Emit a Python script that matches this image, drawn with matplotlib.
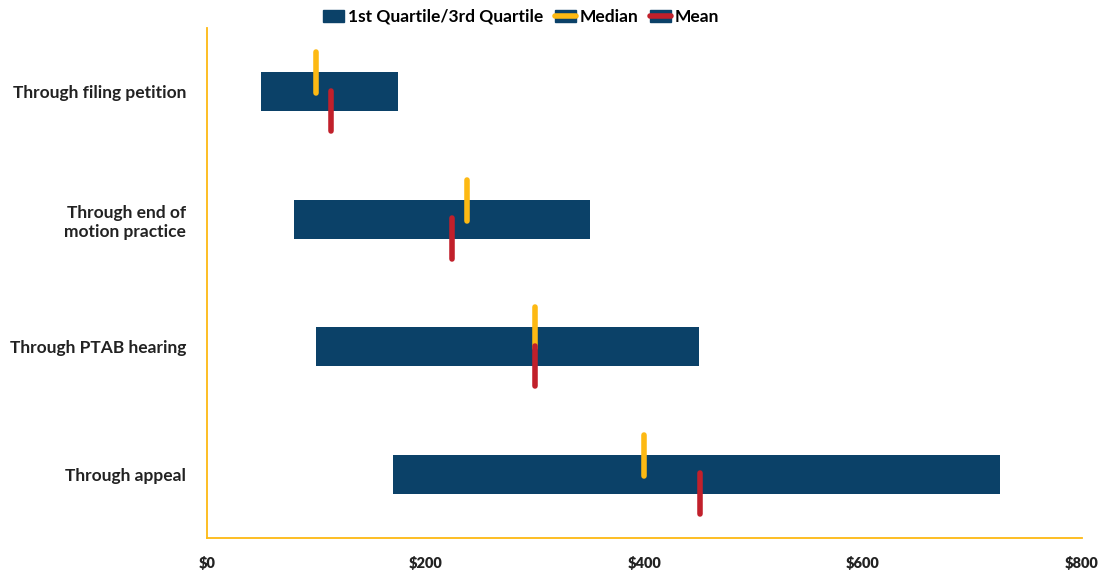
import matplotlib.pyplot as plt
from matplotlib.patches import Patch
from matplotlib.lines import Line2D

categories = ['Through filing petition', 'Through end of\nmotion practice',
              'Through PTAB hearing', 'Through appeal']
q1 = [50, 80, 100, 170]
q3 = [175, 350, 450, 725]
median = [100, 238, 300, 400]
mean = [114, 224, 300, 451]
xticks = [0, 200, 400, 600, 800]

blue = '#0B4168'
yellow = '#FDB913'
red = '#C1202B'

plt.rcParams['font.family'] = ['Lato', 'DejaVu Sans']
plt.rcParams['font.weight'] = 'bold'

fig = plt.figure(figsize=(11.06, 5.75), dpi=100)
ax = fig.add_axes([0.187, 0.064, 0.791, 0.887])

ypos = list(range(len(categories)))
widths = [b - a for a, b in zip(q1, q3)]
ax.barh(ypos, widths, left=q1, height=0.305, color=blue, zorder=2)

for y, md, mn in zip(ypos, median, mean):
    ax.plot([md, md], [y - 0.31, y + 0.01], color=yellow, lw=4, solid_capstyle='round', zorder=3)
    ax.plot([mn, mn], [y - 0.01, y + 0.31], color=red, lw=4, solid_capstyle='round', zorder=4)

ax.set_xlim(0, 800)
ax.set_ylim(3.5, -0.5)
ax.set_yticks(ypos)
ax.set_yticklabels(categories, fontsize=12.5, fontweight='bold', color='#222222')
ax.set_xticks(xticks)
ax.set_xticklabels([f'${v:,}' for v in xticks], fontsize=10.5, fontweight='heavy', color='#222222')
ax.tick_params(axis='x', length=0, pad=13)
ax.tick_params(axis='y', length=0, pad=15)

for s in ['top', 'right']:
    ax.spines[s].set_visible(False)
for s in ['left', 'bottom']:
    ax.spines[s].set_color(yellow)
    ax.spines[s].set_linewidth(1.3)

h_q = Patch(color=blue)
h_med = (Patch(color=blue), Line2D([], [], color=yellow, lw=4, solid_capstyle='round'))
h_mean = (Patch(color=blue), Line2D([], [], color=red, lw=4, solid_capstyle='round'))
fig.legend([h_q, h_med, h_mean], ['1st Quartile/3rd Quartile', 'Median', 'Mean'],
           loc='center', bbox_to_anchor=(521 / 1106, 1 - 17 / 575), ncol=3, frameon=False,
           handlelength=1.2, handletextpad=0.2, columnspacing=0.7,
           prop={'weight': 'bold', 'size': 12.5})

fig.savefig('out.png', dpi=100)
